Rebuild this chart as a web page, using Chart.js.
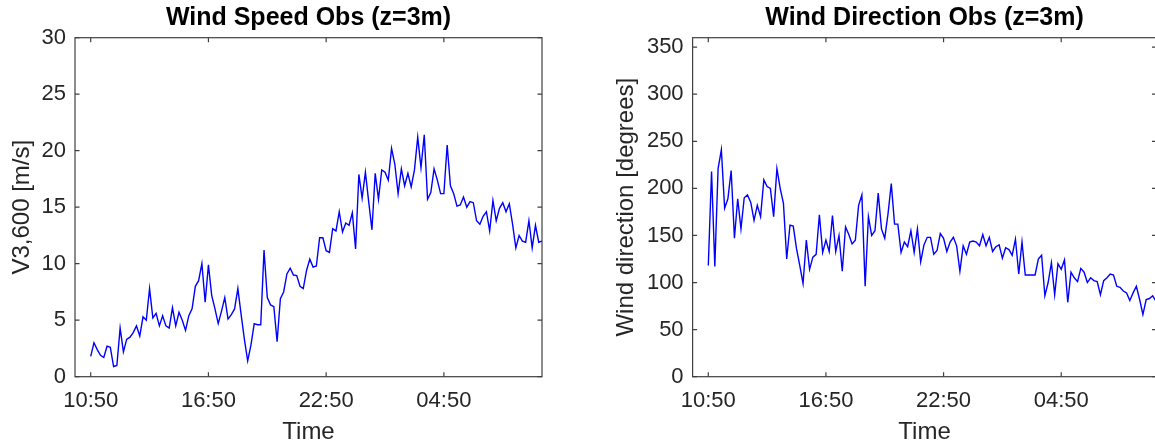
<!DOCTYPE html>
<html><head><meta charset="utf-8">
<script src="https://cdn.jsdelivr.net/npm/chart.js@4.4.1/dist/chart.umd.min.js"></script>
<style>
html,body{margin:0;padding:0;overflow:hidden;background:#fff;width:1155px;height:446px;}
#wrap{position:relative;width:1155px;height:446px;overflow:hidden;background:#fff;}
canvas{position:absolute;top:0;}
#c1{left:0;} #c2{left:580px;}
</style></head><body>
<div id="wrap"><canvas id="c1" width="575" height="446"></canvas><canvas id="c2" width="600" height="446"></canvas></div>
<script>
// 10-minute observations starting 10:50
const stepMinutes = 10;
const speedValues = [1.8,3.0,2.4,1.9,1.7,2.7,2.6,0.9,1.0,4.3,
2.2,3.3,3.5,3.9,4.5,3.6,5.3,5.0,7.8,5.2,
5.6,4.5,5.4,4.5,4.3,6.1,4.5,5.7,5.0,4.1,
5.4,6.0,8.0,8.5,10.0,6.6,9.9,7.2,6.0,4.7,
5.8,7.0,5.1,5.5,6.0,7.8,5.5,3.3,1.4,2.8,
4.7,4.6,4.6,11.2,7.0,6.35,6.2,3.1,6.9,7.5,
9.1,9.6,9.0,8.95,8.0,7.8,9.4,10.4,9.7,9.8,
12.3,12.3,11.15,11.0,13.1,12.9,14.6,12.8,13.6,13.4,
14.5,11.3,17.9,15.8,18.1,15.5,13.0,18.0,15.7,18.3,
18.1,17.4,20.2,18.8,16.2,18.4,16.9,18.0,16.8,18.3,
21.2,18.5,21.4,15.7,16.3,18.4,17.4,16.2,16.2,20.5,
16.9,16.2,15.1,15.2,15.9,15.0,15.5,15.4,13.8,13.5,
14.2,14.6,12.9,15.6,13.8,14.9,15.4,14.6,15.3,13.5,
11.4,12.5,12.0,11.9,13.8,11.4,13.4,11.9,12.0];
const directionValues = [118,218,117,221,241,179,189,219,147,189,
157,190,193,185,166,182,170,209,202,200,
170,221,200,184,125,161,160,136,118,99,
145,114,127,130,172,132,145,133,171,133,
150,112,159,151,141,145,182,193,96,170,
150,155,195,157,147,173,205,162,162,132,
143,138,155,132,157,122,140,148,148,130,
134,152,147,133,143,148,139,112,139,130,
143,144,143,139,151,139,148,133,138,140,
126,137,135,129,146,109,143,108,108,108,
108,125,129,86,100,121,87,120,114,124,
79,111,105,101,115,111,100,105,102,101,
87,102,105,109,108,96,95,91,89,81,
89,96,82,66,82,83,86,80,90];
const xTickHours = [0, 6, 12, 18];
const xTickLabels = ['10:50', '16:50', '22:50', '04:50'];
const speedTicks = [0, 5, 10, 15, 20, 25, 30];
const dirTicks = [0, 50, 100, 150, 200, 250, 300, 350];

const FONT = "'Liberation Sans', Arial, Helvetica, sans-serif";
const toPoints = vals => vals.map((v, i) => ({ x: i * stepMinutes / 60, y: v }));

const boxPlugin = {
  id: 'mbox',
  beforeDatasetsDraw(chart) {
    const { ctx, chartArea: a, scales } = chart;
    ctx.save();
    ctx.strokeStyle = '#404040';
    ctx.lineWidth = 1.2;
    ctx.strokeRect(a.left, a.top, a.right - a.left, a.bottom - a.top);
    const L = 4.5;
    ctx.beginPath();
    scales.x.ticks.forEach(t => {
      const px = scales.x.getPixelForValue(t.value);
      ctx.moveTo(px, a.bottom); ctx.lineTo(px, a.bottom - L);
      ctx.moveTo(px, a.top); ctx.lineTo(px, a.top + L);
    });
    scales.y.ticks.forEach(t => {
      const py = scales.y.getPixelForValue(t.value);
      ctx.moveTo(a.left, py); ctx.lineTo(a.left + L, py);
      ctx.moveTo(a.right, py); ctx.lineTo(a.right - L, py);
    });
    ctx.stroke();
    ctx.restore();
  }
};

function makeChart(id, o) {
  return new Chart(document.getElementById(id), {
    type: 'line',
    data: { datasets: [{ data: toPoints(o.values), borderColor: '#0000ff', borderWidth: 1.4, pointRadius: 0, tension: 0, fill: false }] },
    options: {
      responsive: false, animation: false, devicePixelRatio: 1,
      layout: { padding: { left: 0, right: o.padRight, top: 0, bottom: 0 } },
      plugins: {
        legend: { display: false }, tooltip: { enabled: false },
        title: { display: true, text: o.title, fullSize: false, color: '#000',
          font: { family: FONT, size: 25, weight: 'bold', lineHeight: 1.2 }, padding: { top: 3, bottom: 4.7 } }
      },
      scales: {
        x: { type: 'linear', min: -0.8, max: o.xmax,
          grid: { display: false, drawTicks: false, tickLength: 0 }, border: { display: false },
          afterBuildTicks: s => { s.ticks = xTickHours.map(v => ({ value: v })); },
          afterFit: s => { s.height = 69.3; },
          ticks: { autoSkip: false, maxRotation: 0, minRotation: 0, padding: 11, color: '#262626',
            font: { family: FONT, size: 22, lineHeight: 1.2 },
            callback: v => xTickLabels[xTickHours.indexOf(v)] },
          title: { display: true, text: 'Time', color: '#262626',
            font: { family: FONT, size: 24, lineHeight: 1.0 }, padding: { top: 0, bottom: 2 } } },
        y: { type: 'linear', min: 0, max: o.ymax,
          grid: { display: false, drawTicks: false, tickLength: 0 }, border: { display: false },
          afterBuildTicks: s => { s.ticks = o.yTicks.map(v => ({ value: v })); },
          afterFit: s => { s.width = o.yWidth; },
          ticks: { padding: 9, color: '#262626', font: { family: FONT, size: 22, lineHeight: 1.2 },
            callback: v => String(v) },
          title: { display: true, text: o.ylabel, color: '#262626',
            font: { family: FONT, size: 24, lineHeight: 1.2 }, padding: { top: o.yTitlePad, bottom: 0 } } }
      }
    },
    plugins: [boxPlugin]
  });
}

makeChart('c1', { values: speedValues, title: 'Wind Speed Obs (z=3m)', ylabel: 'V3,600 [m/s]',
  ymax: 30, yTicks: speedTicks, yWidth: 75, padRight: 33, yTitlePad: 8.1, xmax: 23.0 });
makeChart('c2', { values: directionValues, title: 'Wind Direction Obs (z=3m)', ylabel: 'Wind direction [degrees]',
  ymax: 360, yTicks: dirTicks, yWidth: 112.6, padRight: 23.5, yTitlePad: 31.6, xmax: 22.86 });
</script>
</body></html>
